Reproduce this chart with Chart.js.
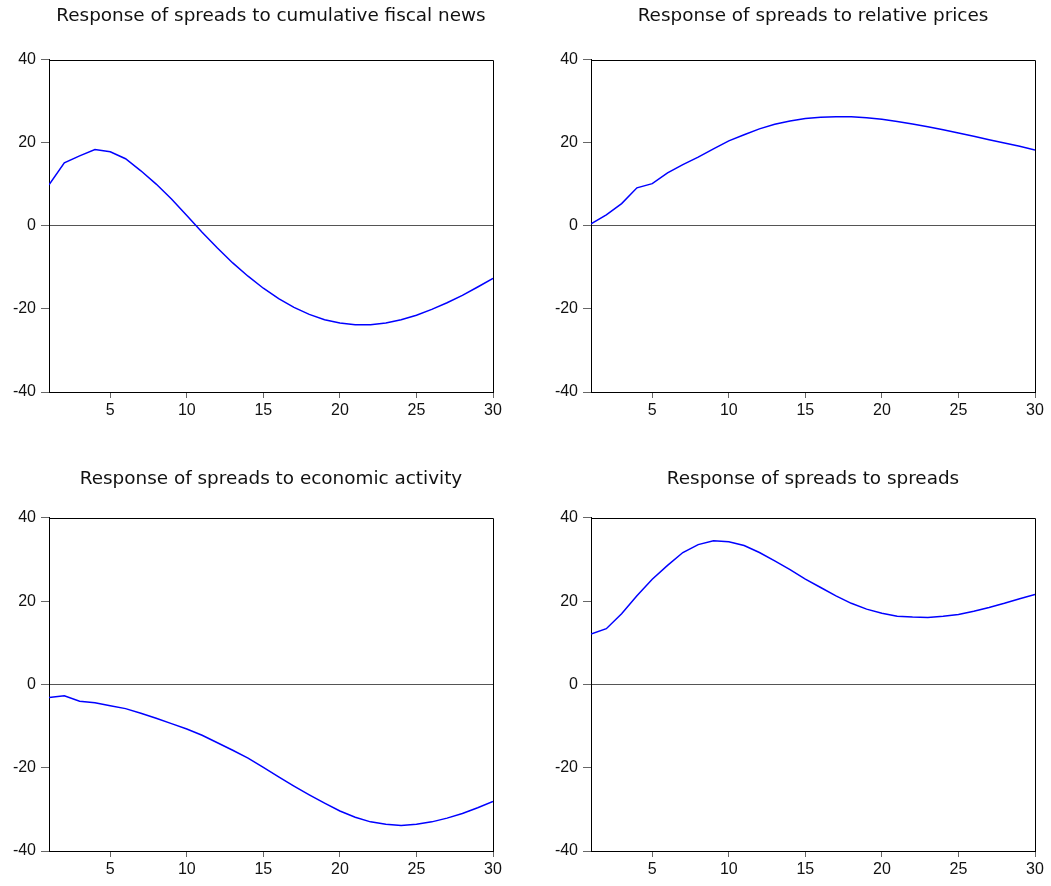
<!DOCTYPE html>
<html>
<head>
<meta charset="utf-8">
<script src="https://cdn.jsdelivr.net/npm/chart.js@4.4.1/dist/chart.umd.min.js"></script>
<style>
  html, body { margin: 0; padding: 0; background: #fff; }
  body { width: 1051px; height: 886px; position: relative; overflow: hidden; }
  canvas { position: absolute; }
</style>
</head>
<body>
<canvas id="c1" width="525" height="440" style="left:0px;top:0px;"></canvas>
<canvas id="c2" width="509" height="440" style="left:542px;top:0px;"></canvas>
<canvas id="c3" width="525" height="428" style="left:0px;top:458px;"></canvas>
<canvas id="c4" width="509" height="428" style="left:542px;top:458px;"></canvas>
<script>
// Horizon (periods)
const periods = [1,2,3,4,5,6,7,8,9,10,11,12,13,14,15,16,17,18,19,20,21,22,23,24,25,26,27,28,29,30];
const xTickValues = [5, 10, 15, 20, 25, 30];
const yTickValues = [-40, -20, 0, 20, 40];

const titles = [
  "Response of spreads to cumulative fiscal news",
  "Response of spreads to relative prices",
  "Response of spreads to economic activity",
  "Response of spreads to spreads"
];

const fiscalNews = [9.9, 15.2, 16.9, 18.4, 17.9, 16.2, 13.3, 10.1, 6.5, 2.5,
  -1.5, -5.3, -8.9, -12.1, -15.0, -17.5, -19.6, -21.3, -22.6, -23.4,
  -23.8, -23.8, -23.4, -22.6, -21.5, -20.1, -18.5, -16.7, -14.7, -12.6];

const relativePrices = [0.5, 2.7, 5.4, 9.2, 10.2, 12.8, 14.8, 16.6, 18.6, 20.5,
  22.0, 23.4, 24.5, 25.3, 25.9, 26.2, 26.3, 26.3, 26.1, 25.7,
  25.2, 24.6, 23.9, 23.2, 22.4, 21.6, 20.8, 20.0, 19.2, 18.3];

const economicActivity = [-3.1, -2.7, -4.0, -4.4, -5.1, -5.8, -6.9, -8.1, -9.4, -10.7,
  -12.2, -14.0, -15.8, -17.7, -19.9, -22.2, -24.4, -26.5, -28.5, -30.4,
  -31.9, -33.0, -33.6, -33.9, -33.6, -33.0, -32.1, -31.0, -29.6, -28.1];

const spreads = [12.1, 13.4, 17.0, 21.3, 25.3, 28.6, 31.7, 33.6, 34.5, 34.3,
  33.4, 31.7, 29.7, 27.6, 25.3, 23.3, 21.3, 19.5, 18.1, 17.1,
  16.4, 16.2, 16.1, 16.4, 16.8, 17.6, 18.5, 19.5, 20.6, 21.6];

const boxPlugin = {
  id: 'boxPlugin',
  afterDatasetsDraw(chart) {
    const a = chart.chartArea;
    const ctx = chart.ctx;
    ctx.save();
    ctx.strokeStyle = '#000';
    ctx.lineWidth = 1;
    const l = Math.round(a.left) + 0.5, r = Math.round(a.right) + 0.5;
    const t = Math.round(a.top) + 0.5, b = Math.round(a.bottom) + 0.5;
    ctx.beginPath();
    ctx.moveTo(l, t); ctx.lineTo(r, t); ctx.lineTo(r, b);
    ctx.stroke();
    ctx.restore();
  }
};

function makeChart(id, title, values, padRight, titlePadTop, titlePadBottom, padBottom) {
  const ctx = document.getElementById(id).getContext('2d');
  return new Chart(ctx, {
    type: 'line',
    data: {
      datasets: [{
        data: periods.map((p, i) => ({ x: p, y: values[i] })),
        borderColor: '#0000ff',
        borderWidth: 1.5,
        pointRadius: 0,
        tension: 0,
        fill: false
      }]
    },
    options: {
      responsive: false,
      animation: false,
      devicePixelRatio: 1,
      layout: { padding: { left: 0, right: padRight, top: 0, bottom: padBottom } },
      plugins: {
        legend: { display: false },
        tooltip: { enabled: false },
        title: {
          display: true,
          text: title,
          fullSize: false,
          color: '#111',
          font: { family: 'DejaVu Sans', size: 18.4, weight: 'normal', lineHeight: 1.2 },
          padding: { top: titlePadTop, bottom: titlePadBottom }
        }
      },
      scales: {
        x: {
          type: 'linear',
          min: 1,
          max: 30,
          afterBuildTicks(scale) { scale.ticks = xTickValues.map(v => ({ value: v })); },
          afterFit(scale) { scale.height = 30; },
          grid: {
            color: 'rgba(0,0,0,0)',
            tickColor: '#666',
            tickLength: 6,
            drawOnChartArea: false
          },
          border: { color: '#000', width: 1 },
          ticks: {
            color: '#111',
            padding: 3,
            maxRotation: 0,
            autoSkip: false,
            font: { family: 'Liberation Sans', size: 16 }
          }
        },
        y: {
          type: 'linear',
          min: -40,
          max: 40,
          afterBuildTicks(scale) { scale.ticks = yTickValues.map(v => ({ value: v })); },
          afterFit(scale) { scale.width = 49; },
          grid: {
            color: (c) => (c.tick && c.tick.value === 0 ? '#555' : 'rgba(0,0,0,0)'),
            tickColor: '#666',
            tickLength: 8,
            lineWidth: 1
          },
          border: { color: '#000', width: 1 },
          ticks: {
            color: '#111',
            padding: 5,
            font: { family: 'Liberation Sans', size: 16 }
          }
        }
      }
    },
    plugins: [boxPlugin]
  });
}

makeChart('c1', titles[0], fiscalNews, 32, 5, 32.9, 18);
makeChart('c2', titles[1], relativePrices, 16, 5, 32.9, 18);
makeChart('c3', titles[2], economicActivity, 32, 10, 27.9, 5);
makeChart('c4', titles[3], spreads, 16, 10, 27.9, 5);
</script>
</body>
</html>
